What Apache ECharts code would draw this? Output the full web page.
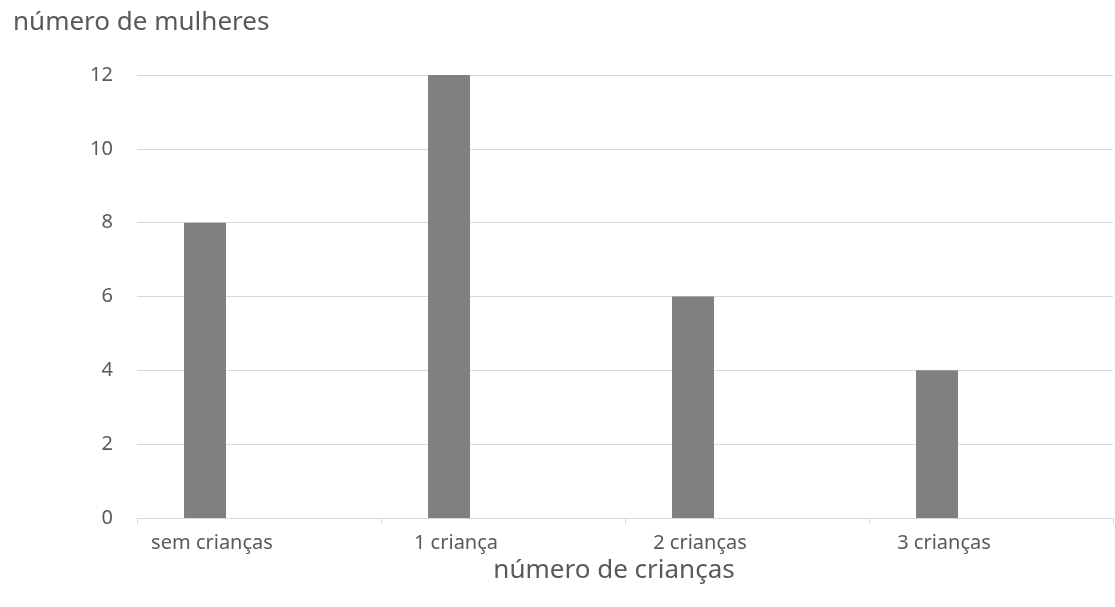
<!DOCTYPE html>
<html>
<head>
<meta charset="utf-8">
<script src="https://cdn.jsdelivr.net/npm/echarts@6/dist/echarts.min.js"></script>
<style>
  html, body { margin: 0; padding: 0; background: #fff; }
  #chart { width: 1115px; height: 607px; }
</style>
</head>
<body>
<div id="chart"></div>
<script>
// dados
var categorias = ['sem crianças', '1 criança', '2 crianças', '3 crianças'];
var mulheres = [8, 12, 6, 4];
var yMin = 0, yMax = 12, yStep = 2;

var chart = echarts.init(document.getElementById('chart'));

var fonte = '"Noto Sans", "Open Sans", sans-serif';
var cinza = '#595959';

var option = {
  animation: false,
  textStyle: { fontFamily: fonte },
  title: {
    text: 'número de mulheres',
    left: 8,
    top: 5,
    textStyle: { fontSize: 26, fontWeight: 'normal', color: cinza }
  },
  grid: { left: 137, right: 2, top: 75, bottom: 89, containLabel: false },
  xAxis: {
    type: 'category',
    data: categorias,
    name: 'número de crianças',
    nameLocation: 'middle',
    nameGap: 35,
    nameTextStyle: { fontSize: 26, color: cinza, padding: [0, 22, 0, 0] },
    axisLine: { lineStyle: { color: '#d9d9d9', width: 1 } },
    axisTick: { show: true, length: 6, lineStyle: { color: '#d9d9d9' } },
    axisLabel: {
      fontSize: 20,
      color: cinza,
      margin: 15,
      padding: [0, 94, 0, 0]  // rótulos deslocados para a esquerda, como no original
    }
  },
  yAxis: {
    type: 'value',
    min: yMin,
    max: yMax,
    interval: yStep,
    axisLine: { show: false },
    axisTick: { show: false },
    axisLabel: { fontSize: 20, color: cinza, margin: 24 },
    splitLine: { lineStyle: { color: '#d9d9d9', width: 1 } }
  },
  series: [
    {
      name: 'mulheres',
      type: 'bar',
      data: mulheres,
      barWidth: 42,
      barGap: '157%',
      itemStyle: { color: '#808080' }
    },
    {
      // série vazia só para empurrar as barras para a esquerda da categoria
      name: 'espaco',
      type: 'bar',
      data: [],
      barWidth: 42,
      silent: true
    }
  ]
};
chart.setOption(option);
</script>
</body>
</html>
